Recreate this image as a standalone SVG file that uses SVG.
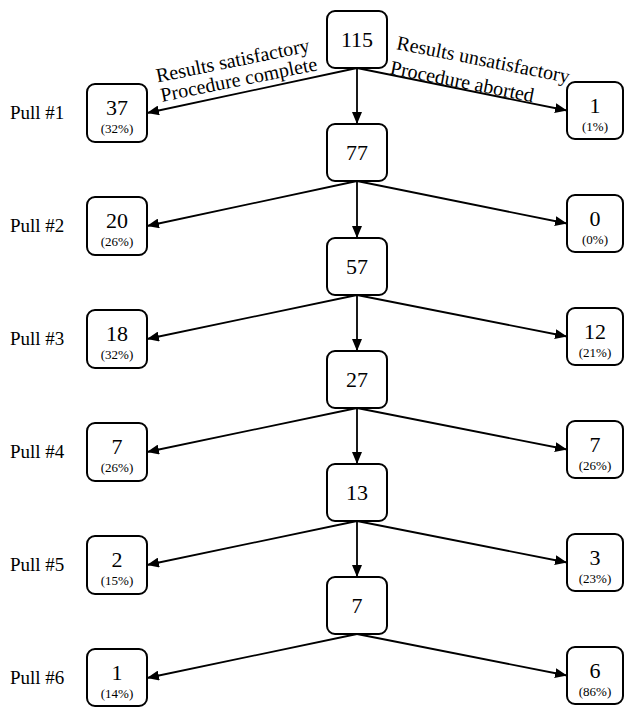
<svg xmlns="http://www.w3.org/2000/svg" width="625" height="707" viewBox="0 0 625 707">
<defs>
<marker id="ah" viewBox="0 0 12 10" refX="12" refY="5" markerWidth="12" markerHeight="10" markerUnits="userSpaceOnUse" orient="auto">
<path d="M0,0 L12,5 L0,10 z" fill="#000"/>
</marker>
<style>
rect{fill:#fff;stroke:#000;stroke-width:2}
text{font-family:"Liberation Serif","Times New Roman",serif;fill:#000}
.num{font-size:22px;text-anchor:middle}
.pct{font-size:13px;text-anchor:middle}
.pull{font-size:19px}
.lbl{font-size:20px;text-anchor:middle}
#connectors line{stroke:#000;stroke-width:1.8;marker-end:url(#ah)}
</style>
</defs>
<rect x="0" y="0" width="625" height="707" style="fill:#fff;stroke:none"/>
<g id="connectors">
<line x1="357" y1="68" x2="357" y2="124"/>
<line x1="357" y1="68" x2="147" y2="113"/>
<line x1="357" y1="68" x2="567" y2="110.5"/>
<line x1="357" y1="181" x2="357" y2="238"/>
<line x1="357" y1="181" x2="147" y2="226"/>
<line x1="357" y1="181" x2="567" y2="223.5"/>
<line x1="357" y1="295" x2="357" y2="351"/>
<line x1="357" y1="295" x2="147" y2="339"/>
<line x1="357" y1="295" x2="567" y2="336.5"/>
<line x1="357" y1="408" x2="357" y2="464"/>
<line x1="357" y1="408" x2="147" y2="452"/>
<line x1="357" y1="408" x2="567" y2="449.5"/>
<line x1="357" y1="521" x2="357" y2="577"/>
<line x1="357" y1="521" x2="147" y2="565"/>
<line x1="357" y1="521" x2="567" y2="562.5"/>
<line x1="357" y1="634" x2="147" y2="678"/>
<line x1="357" y1="634" x2="567" y2="675.5"/>
</g>
<g id="edge-labels">
<text class="lbl" transform="translate(234,67) rotate(-11.5)">Results satisfactory</text>
<text class="lbl" transform="translate(240,86) rotate(-11.5)">Procedure complete</text>
<text class="lbl" transform="translate(482,66) rotate(11.2)">Results unsatisfactory</text>
<text class="lbl" transform="translate(461,88) rotate(11.2)">Procedure aborted</text>
</g>
<g id="pull-labels">
<text class="pull" x="10" y="119">Pull #1</text>
<text class="pull" x="10" y="232">Pull #2</text>
<text class="pull" x="10" y="345">Pull #3</text>
<text class="pull" x="10" y="458">Pull #4</text>
<text class="pull" x="10" y="571">Pull #5</text>
<text class="pull" x="10" y="684">Pull #6</text>
</g>
<g id="c0"><rect x="327" y="11" width="60" height="57" rx="8"/><text class="num" x="357" y="47">115</text></g>
<g id="c1"><rect x="327" y="124" width="60" height="57" rx="8"/><text class="num" x="357" y="160">77</text></g>
<g id="c2"><rect x="327" y="238" width="60" height="57" rx="8"/><text class="num" x="357" y="274">57</text></g>
<g id="c3"><rect x="327" y="351" width="60" height="57" rx="8"/><text class="num" x="357" y="387">27</text></g>
<g id="c4"><rect x="327" y="464" width="60" height="57" rx="8"/><text class="num" x="357" y="500">13</text></g>
<g id="c5"><rect x="327" y="577" width="60" height="57" rx="8"/><text class="num" x="357" y="613">7</text></g>
<g id="l0"><rect x="87" y="84" width="60" height="58" rx="8"/><text class="num" x="117" y="115">37</text><text class="pct" x="117" y="133">(32%)</text></g>
<g id="l1"><rect x="87" y="197" width="60" height="58" rx="8"/><text class="num" x="117" y="228">20</text><text class="pct" x="117" y="246">(26%)</text></g>
<g id="l2"><rect x="87" y="310" width="60" height="58" rx="8"/><text class="num" x="117" y="341">18</text><text class="pct" x="117" y="359">(32%)</text></g>
<g id="l3"><rect x="87" y="423" width="60" height="58" rx="8"/><text class="num" x="117" y="454">7</text><text class="pct" x="117" y="472">(26%)</text></g>
<g id="l4"><rect x="87" y="536" width="60" height="58" rx="8"/><text class="num" x="117" y="567">2</text><text class="pct" x="117" y="585">(15%)</text></g>
<g id="l5"><rect x="87" y="649" width="60" height="57" rx="8"/><text class="num" x="117" y="680">1</text><text class="pct" x="117" y="698">(14%)</text></g>
<g id="r0"><rect x="567" y="82" width="56" height="57" rx="8"/><text class="num" x="595" y="113">1</text><text class="pct" x="595" y="131">(1%)</text></g>
<g id="r1"><rect x="567" y="195" width="56" height="57" rx="8"/><text class="num" x="595" y="226">0</text><text class="pct" x="595" y="244">(0%)</text></g>
<g id="r2"><rect x="567" y="308" width="56" height="57" rx="8"/><text class="num" x="595" y="339">12</text><text class="pct" x="595" y="357">(21%)</text></g>
<g id="r3"><rect x="567" y="421" width="56" height="57" rx="8"/><text class="num" x="595" y="452">7</text><text class="pct" x="595" y="470">(26%)</text></g>
<g id="r4"><rect x="567" y="534" width="56" height="57" rx="8"/><text class="num" x="595" y="565">3</text><text class="pct" x="595" y="583">(23%)</text></g>
<g id="r5"><rect x="567" y="647" width="56" height="57" rx="8"/><text class="num" x="595" y="678">6</text><text class="pct" x="595" y="696">(86%)</text></g>
</svg>
